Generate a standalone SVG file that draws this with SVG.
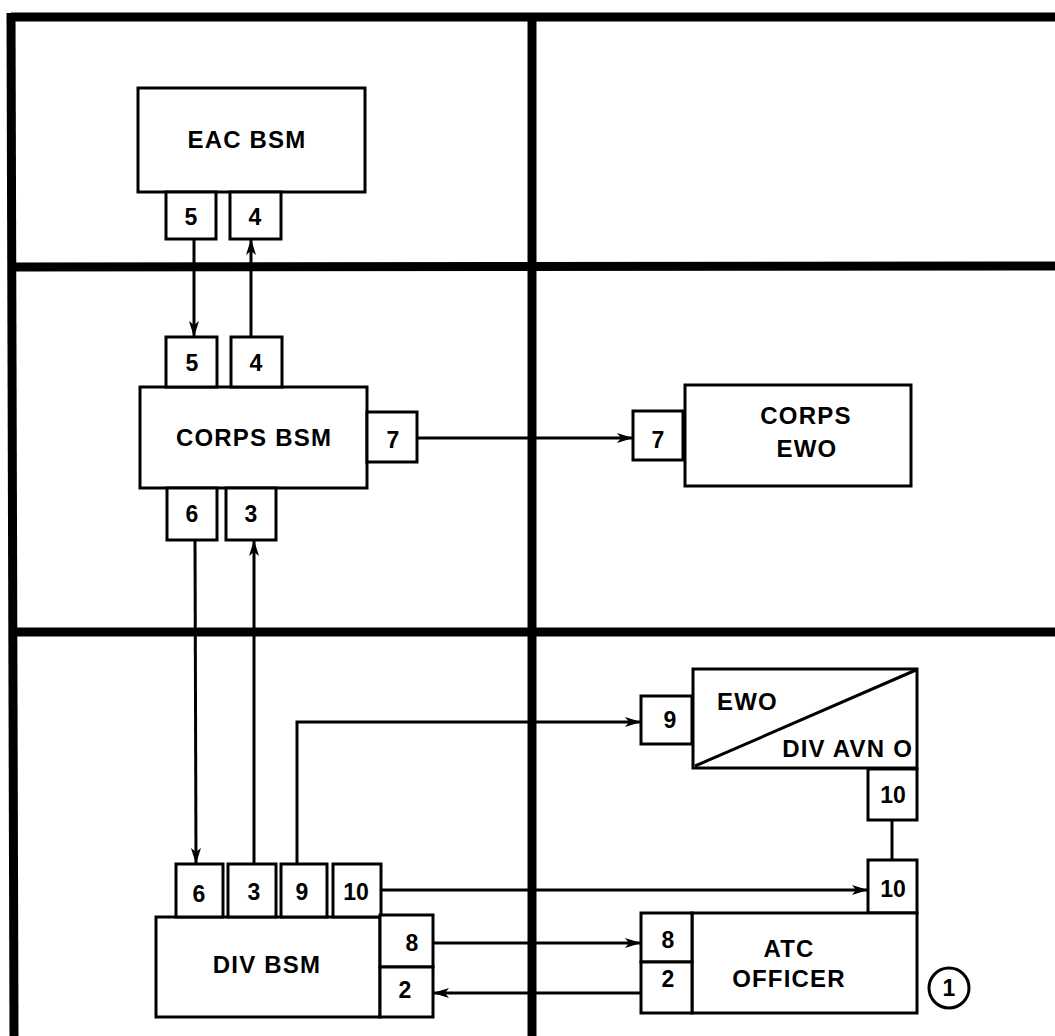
<svg xmlns="http://www.w3.org/2000/svg" width="1055" height="1036" viewBox="0 0 1055 1036">
<style>
.frame{stroke:#000;stroke-width:9;fill:none}
.box{fill:#fff;stroke:#000;stroke-width:3}
.con{fill:none;stroke:#000;stroke-width:3}
.lbl{font-family:"Liberation Sans",Arial,sans-serif;font-weight:bold;font-size:24px;letter-spacing:1.2px;fill:#000}
.num{font-family:"Liberation Sans",Arial,sans-serif;font-weight:bold;font-size:23px;fill:#000;text-anchor:middle}
.mid{text-anchor:middle}
</style>
<defs>
<marker id="arr" viewBox="0 0 16 10" refX="16" refY="5" markerWidth="16" markerHeight="10" orient="auto" markerUnits="userSpaceOnUse">
<path d="M0,0 L16,5 L0,10 L4,5 z" fill="#000"/>
</marker>
</defs>
<rect width="1055" height="1036" fill="#fff"/>
<g id="frame">
<line class="frame" x1="11" y1="17" x2="1055" y2="17"/>
<line class="frame" x1="11" y1="13" x2="14" y2="1036"/>
<line class="frame" x1="532" y1="17" x2="532" y2="1036"/>
<line class="frame" x1="11" y1="267" x2="1055" y2="266"/>
<line class="frame" x1="11" y1="632" x2="1055" y2="632"/>
</g>
<g id="connectors">
<line class="con" x1="194" y1="239" x2="194" y2="337" marker-end="url(#arr)"/>
<line class="con" x1="251" y1="337" x2="251" y2="239" marker-end="url(#arr)"/>
<line class="con" x1="417" y1="438" x2="633" y2="438" marker-end="url(#arr)"/>
<line class="con" x1="195" y1="540" x2="196" y2="864" marker-end="url(#arr)"/>
<line class="con" x1="254" y1="864" x2="254" y2="540" marker-end="url(#arr)"/>
<polyline class="con" points="297,864 297,722 641,722" marker-end="url(#arr)"/>
<line class="con" x1="381" y1="890" x2="868" y2="890" marker-end="url(#arr)"/>
<line class="con" x1="892" y1="820" x2="892" y2="860"/>
<line class="con" x1="433" y1="943" x2="641" y2="943" marker-end="url(#arr)"/>
<line class="con" x1="641" y1="993" x2="433" y2="993" marker-end="url(#arr)"/>
</g>
<g id="eac-bsm">
<rect class="box" x="138" y="88" width="227" height="104"/>
<text class="lbl mid" x="247" y="148">EAC BSM</text>
<rect class="box" x="166" y="192" width="50" height="47"/>
<text class="num" x="191" y="225">5</text>
<rect class="box" x="230" y="192" width="51" height="47"/>
<text class="num" x="255" y="225">4</text>
</g>
<g id="corps-bsm">
<rect class="box" x="140" y="387" width="227" height="101"/>
<text class="lbl mid" x="254" y="446">CORPS BSM</text>
<rect class="box" x="166" y="337" width="51" height="50"/>
<text class="num" x="192" y="371">5</text>
<rect class="box" x="231" y="337" width="51" height="50"/>
<text class="num" x="256" y="371">4</text>
<rect class="box" x="367" y="412" width="50" height="50"/>
<text class="num" x="393" y="448">7</text>
<rect class="box" x="167" y="488" width="50" height="52"/>
<text class="num" x="192" y="522">6</text>
<rect class="box" x="226" y="488" width="50" height="52"/>
<text class="num" x="251" y="522">3</text>
</g>
<g id="corps-ewo">
<rect class="box" x="685" y="385" width="226" height="101"/>
<text class="lbl mid" x="806" y="424">CORPS</text>
<text class="lbl mid" x="807" y="457">EWO</text>
<rect class="box" x="633" y="411" width="50" height="49"/>
<text class="num" x="658" y="448">7</text>
</g>
<g id="ewo-div-avn-o">
<rect class="box" x="693" y="669" width="224" height="99"/>
<line class="con" x1="695" y1="766" x2="916" y2="670"/>
<text class="lbl" x="717" y="710">EWO</text>
<text class="lbl" x="913" y="757" text-anchor="end">DIV AVN O</text>
<rect class="box" x="641" y="696" width="51" height="48"/>
<text class="num" x="670" y="728">9</text>
<rect class="box" x="868" y="769" width="49" height="51"/>
<text class="num" x="893" y="803">10</text>
</g>
<g id="atc-officer">
<rect class="box" x="868" y="860" width="49" height="53"/>
<text class="num" x="893" y="897">10</text>
<rect class="box" x="692" y="913" width="225" height="100"/>
<text class="lbl mid" x="789" y="957">ATC</text>
<text class="lbl mid" x="789" y="987">OFFICER</text>
<rect class="box" x="641" y="913" width="51" height="49"/>
<text class="num" x="668" y="948">8</text>
<rect class="box" x="641" y="962" width="51" height="51"/>
<text class="num" x="668" y="987">2</text>
</g>
<g id="note-1">
<circle cx="949" cy="988" r="20" fill="#fff" stroke="#000" stroke-width="3"/>
<text class="num" x="949" y="996">1</text>
</g>
<g id="div-bsm">
<rect class="box" x="156" y="917" width="224" height="100"/>
<text class="lbl mid" x="267" y="973">DIV BSM</text>
<rect class="box" x="176" y="864" width="47" height="53"/>
<text class="num" x="199" y="902">6</text>
<rect class="box" x="228" y="864" width="48" height="53"/>
<text class="num" x="254" y="900">3</text>
<rect class="box" x="281" y="864" width="46" height="53"/>
<text class="num" x="302" y="900">9</text>
<rect class="box" x="333" y="864" width="48" height="53"/>
<text class="num" x="356" y="900">10</text>
<rect class="box" x="380" y="915" width="53" height="52"/>
<text class="num" x="412" y="951">8</text>
<rect class="box" x="380" y="967" width="53" height="50"/>
<text class="num" x="405" y="998">2</text>
</g>
</svg>
